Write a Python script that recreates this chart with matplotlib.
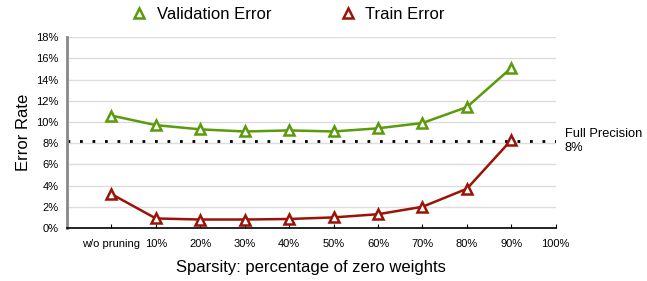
import matplotlib
matplotlib.use('Agg')
import matplotlib.pyplot as plt
from matplotlib.lines import Line2D

plt.rcParams['font.family'] = ['Liberation Sans', 'DejaVu Sans']

# Data
categories = ['w/o pruning', '10%', '20%', '30%', '40%', '50%', '60%', '70%', '80%', '90%', '100%']
validation_error = [10.6, 9.7, 9.3, 9.1, 9.2, 9.1, 9.4, 9.9, 11.4, 15.1]
train_error = [3.2, 0.9, 0.8, 0.8, 0.85, 1.0, 1.3, 2.0, 3.7, 8.3]
full_precision = 8.2
y_ticks = [0, 2, 4, 6, 8, 10, 12, 14, 16, 18]

green = '#5b9a0c'
red = '#9b1306'

fig = plt.figure(figsize=(6.47, 2.81), dpi=100)
ax = fig.add_axes([0.1036, 0.1886, 0.7554, 0.6794])

x = list(range(len(validation_error)))
ax.plot(x, validation_error, color=green, lw=1.8, marker='^', ms=7,
        mfc='white', mec=green, mew=1.8, zorder=3)
ax.plot(x, train_error, color=red, lw=1.8, marker='^', ms=7,
        mfc='white', mec=red, mew=1.8, zorder=3)
ax.axhline(full_precision, color='black', lw=2, ls=(0, (1, 3.5)), zorder=2)

ax.set_xlim(-1, len(categories) - 1)
ax.set_ylim(0, 18)
ax.set_xticks(range(len(categories)))
ax.set_xticklabels(categories, fontsize=8)
ax.set_yticks(y_ticks)
ax.set_yticklabels([f'{t}%' for t in y_ticks], fontsize=8)
ax.yaxis.grid(True, color='#dddddd', lw=1)
ax.set_axisbelow(True)

for s in ['top', 'right']:
    ax.spines[s].set_visible(False)
ax.spines['left'].set_color('#888888')
ax.spines['left'].set_linewidth(2)
ax.spines['bottom'].set_color('black')
ax.spines['bottom'].set_linewidth(1.2)
ax.tick_params(axis='y', length=0, pad=6)
ax.tick_params(axis='x', length=3, direction='in', pad=8)

ax.set_ylabel('Error Rate', fontsize=12, labelpad=4)
ax.set_xlabel('Sparsity: percentage of zero weights', fontsize=12, labelpad=8)

ax.text(1.018, full_precision / 18, 'Full Precision\n8%', transform=ax.transAxes,
        fontsize=9.3, va='center', ha='left', linespacing=1.3)

handles = [
    Line2D([], [], ls='none', marker='^', ms=7, mfc='white', mec=green, mew=1.8),
    Line2D([], [], ls='none', marker='^', ms=7, mfc='white', mec=red, mew=1.8),
]
fig.legend(handles, ['Validation Error', 'Train Error'], loc='upper center',
           bbox_to_anchor=(0.445, 1.03), ncol=2, frameon=False, fontsize=12,
           handlelength=1.0, columnspacing=4.07, handletextpad=0.57)

fig.savefig('out.png', dpi=100)
